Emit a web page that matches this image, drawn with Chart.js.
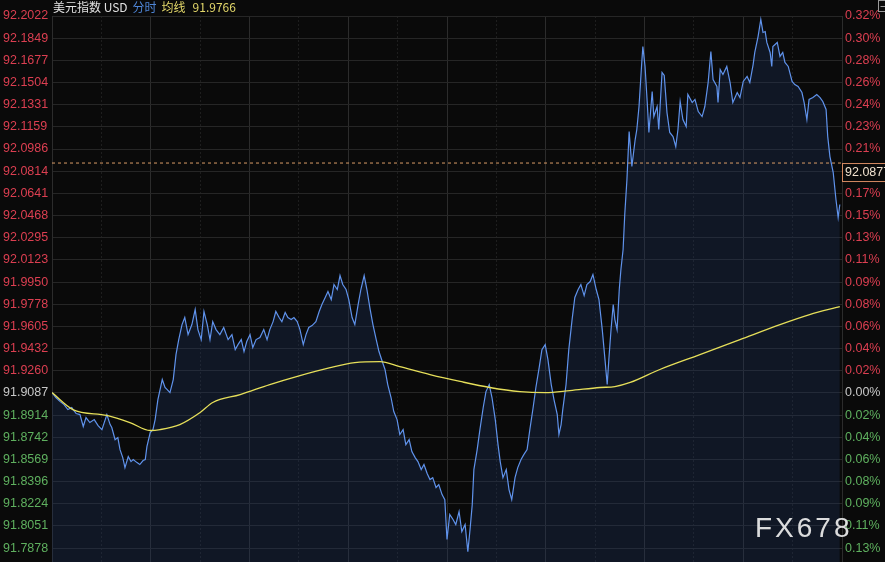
<!DOCTYPE html>
<html>
<head>
<meta charset="utf-8">
<script src="https://cdn.jsdelivr.net/npm/chart.js@4.4.1/dist/chart.umd.min.js"></script>
<style>
  html, body { margin: 0; padding: 0; background: #0a0a0a; }
  #wrap { width: 885px; height: 562px; position: relative; }
</style>
</head>
<body>
<div id="wrap"><canvas id="chart"></canvas></div>
<script>
// 美元指数 USD 分时 — previous close, last price, average
const BASE     = 91.9087;
const LAST     = 92.0877;
const AVG_LAST = 91.9766;
const SESSION  = 1440; // minutes in the session

const priceTicks = [
  92.2022, 92.1849, 92.1677, 92.1504, 92.1331, 92.1159, 92.0986, 92.0814,
  92.0641, 92.0468, 92.0295, 92.0123, 91.9950, 91.9778, 91.9605, 91.9432,
  91.9260, 91.9087, 91.8914, 91.8742, 91.8569, 91.8396, 91.8224, 91.8051, 91.7878,
];
const Y_MAX = 92.2022;
const Y_MIN = 91.7770;

// minute of session for each traded price
const minutes = [
  0, 7, 15, 22, 29, 36, 44, 51, 57, 62, 69, 77, 84, 91, 97, 100, 106, 109, 115, 120,
  124, 129, 133, 139, 144, 148, 155, 160, 166, 170, 173, 179, 184, 188, 193, 201, 206, 210, 215, 221,
  226, 231, 237, 242, 248, 255, 261, 266, 272, 277, 283, 288, 293, 299, 306, 313, 321, 328, 334, 339,
  345, 350, 355, 361, 366, 372, 379, 386, 392, 397, 403, 408, 414, 419, 425, 430, 436, 441, 447, 452,
  458, 463, 468, 474, 481, 487, 492, 498, 503, 509, 514, 520, 525, 530, 536, 541, 547, 552, 558, 563,
  569, 574, 580, 585, 591, 596, 602, 607, 612, 618, 623, 629, 634, 640, 645, 651, 656, 662, 667, 673,
  678, 684, 689, 694, 700, 705, 711, 716, 720, 725, 731, 736, 742, 747, 753, 758, 762, 766, 769, 775,
  780, 786, 791, 797, 802, 808, 813, 817, 822, 828, 833, 838, 844, 849, 855, 860, 866, 871, 877, 882,
  888, 893, 899, 904, 910, 915, 921, 924, 928, 931, 937, 942, 948, 953, 959, 964, 970, 975, 981, 986,
  992, 997, 1003, 1008, 1012, 1015, 1019, 1023, 1026, 1030, 1034, 1037, 1041, 1044, 1048, 1052, 1057, 1063, 1066, 1070,
  1075, 1077, 1081, 1085, 1088, 1094, 1097, 1103, 1106, 1112, 1116, 1121, 1126, 1132, 1137, 1141, 1145, 1150, 1156, 1159,
  1167, 1172, 1178, 1185, 1190, 1196, 1201, 1205, 1212, 1214, 1218, 1223, 1230, 1236, 1241, 1249, 1254, 1260, 1267, 1272,
  1278, 1281, 1287, 1292, 1296, 1300, 1303, 1309, 1312, 1314, 1322, 1327, 1332, 1336, 1342, 1349, 1354, 1360, 1367, 1371,
  1376, 1380, 1387, 1394, 1400, 1405, 1411, 1414, 1418, 1424, 1429, 1433, 1436,
];

const price = [
  91.9089, 91.9051, 91.9019, 91.8996, 91.8957, 91.8973, 91.8926, 91.8918, 91.8825, 91.8895,
  91.8856, 91.8879, 91.8832, 91.8801, 91.8879, 91.8918, 91.8840, 91.8817, 91.8723, 91.8739,
  91.8645, 91.8583, 91.8505, 91.8591, 91.8552, 91.8568, 91.8544, 91.8529, 91.8560, 91.8568,
  91.8669, 91.8778, 91.8801, 91.8879, 91.9035, 91.9191, 91.9129, 91.9113, 91.9089, 91.9191,
  91.9385, 91.9502, 91.9619, 91.9674, 91.9541, 91.9619, 91.9736, 91.9580, 91.9502, 91.9721,
  91.9619, 91.9502, 91.9642, 91.9580, 91.9541, 91.9596, 91.9502, 91.9541, 91.9424, 91.9463,
  91.9502, 91.9409, 91.9487, 91.9541, 91.9440, 91.9502, 91.9518, 91.9580, 91.9502, 91.9580,
  91.9642, 91.9721, 91.9674, 91.9642, 91.9713, 91.9674, 91.9658, 91.9674, 91.9642, 91.9580,
  91.9463, 91.9541, 91.9596, 91.9611, 91.9642, 91.9721, 91.9775, 91.9830, 91.9877, 91.9814,
  91.9931, 91.9892, 92.0001, 91.9931, 91.9892, 91.9814, 91.9674, 91.9619, 91.9775, 91.9892,
  92.0001, 91.9892, 91.9736, 91.9619, 91.9502, 91.9409, 91.9331, 91.9269, 91.9152, 91.9051,
  91.8942, 91.8879, 91.8763, 91.8801, 91.8684, 91.8723, 91.8630, 91.8583, 91.8552, 91.8490,
  91.8529, 91.8458, 91.8412, 91.8427, 91.8350, 91.8373, 91.8295, 91.8256, 91.7945, 91.8140,
  91.8101, 91.8062, 91.8163, 91.8007, 91.8062, 91.7851, 91.8023, 91.8217, 91.8490, 91.8645,
  91.8801, 91.8973, 91.9097, 91.9152, 91.9051, 91.8879, 91.8684, 91.8552, 91.8427, 91.8490,
  91.8334, 91.8256, 91.8427, 91.8505, 91.8568, 91.8606, 91.8645, 91.8801, 91.8973, 91.9129,
  91.9284, 91.9424, 91.9463, 91.9346, 91.9152, 91.9035, 91.8918, 91.8763, 91.8840, 91.8957,
  91.9152, 91.9424, 91.9658, 91.9830, 91.9892, 91.9931, 91.9845, 91.9931, 91.9954, 92.0009,
  91.9892, 91.9814, 91.9580, 91.9346, 91.9152, 91.9346, 91.9580, 91.9775, 91.9658, 91.9580,
  91.9892, 92.0048, 92.0204, 92.0476, 92.0749, 92.1122, 92.0850, 92.1060, 92.1138, 92.1317,
  92.1660, 92.1784, 92.1629, 92.1348, 92.1115, 92.1434, 92.1239, 92.1317, 92.1138, 92.1582,
  92.1559, 92.1270, 92.1115, 92.1083, 92.1005, 92.1138, 92.1356, 92.1216, 92.1161, 92.1411,
  92.1348, 92.1372, 92.1278, 92.1239, 92.1317, 92.1504, 92.1746, 92.1527, 92.1473, 92.1348,
  92.1605, 92.1566, 92.1629, 92.1504, 92.1348, 92.1426, 92.1387, 92.1512, 92.1551, 92.1504,
  92.1644, 92.1738, 92.1862, 92.1995, 92.1894, 92.1901, 92.1816, 92.1738, 92.1629, 92.1784,
  92.1816, 92.1707, 92.1738, 92.1660, 92.1629, 92.1512, 92.1488, 92.1473, 92.1426, 92.1348,
  92.1216, 92.1372, 92.1387, 92.1411, 92.1387, 92.1356, 92.1294, 92.1083, 92.0927, 92.0803,
  92.0593, 92.0453, 92.0554,
];

// average price line (均线)
const avgMinutes = [
  0, 38, 100, 142, 179, 197, 233, 270, 293, 343, 397, 452, 507, 552, 598, 634,
  689, 744, 798, 853, 899, 944, 999, 1026, 1054, 1108, 1181, 1254, 1327, 1381, 1436,
];
const avgPrice = [
  91.9089, 91.8957, 91.8911, 91.8856, 91.8794, 91.8801, 91.8840, 91.8934, 91.9012, 91.9074,
  91.9152, 91.9222, 91.9284, 91.9323, 91.9331, 91.9292, 91.9230, 91.9176, 91.9129, 91.9097,
  91.9089, 91.9105, 91.9129, 91.9136, 91.9168, 91.9269, 91.9385, 91.9502, 91.9619, 91.9697, 91.9759,
];

const RED   = '#dc3f51';
const GREEN = '#5fb05f';
const GREY  = '#c8c8c8';
const FONT  = '"Liberation Sans", Arial, sans-serif';
const CJK   = '"Noto Sans CJK SC", "Liberation Sans", sans-serif';

const pct = v => (v / BASE - 1) * 100;
const tickColor = (v, zero) => Math.abs(v - zero) < 1e-6 ? GREY : (v > zero ? RED : GREEN);

// labels sit on fixed price ticks, so no extra room is needed above/below the plot
const noLabelPadding = w => s => { s.width = w; s.paddingTop = 0; s.paddingBottom = 0; };

const overlay = {
  id: 'overlay',
  afterDraw(chart) {
    const { ctx, chartArea, scales } = chart;
    ctx.save();

    // title
    ctx.font = '12px ' + CJK;
    ctx.textBaseline = 'middle';
    ctx.textAlign = 'left';
    let x = 53;
    const parts = [
      ['美元指数 USD', '#e2e2e2', 5],
      ['分时', '#4e85d6', 5],
      ['均线', '#e3d76a', 7],
      [AVG_LAST.toFixed(4), '#e3d76a', 0],
    ];
    for (const [txt, col, gap] of parts) {
      ctx.fillStyle = col;
      ctx.fillText(txt, x, 7);
      x += ctx.measureText(txt).width + gap;
    }

    // last price tag on the right axis
    const y = scales.y.getPixelForValue(LAST);
    ctx.fillStyle = '#0a0a0a';
    ctx.fillRect(chartArea.right, y, 50, 18);
    ctx.strokeStyle = '#d58a62';
    ctx.lineWidth = 1;
    ctx.strokeRect(chartArea.right + 0.5, y + 0.5, 50, 18);
    ctx.font = '12.5px ' + FONT;
    ctx.fillStyle = '#f1e2cf';
    ctx.fillText(LAST.toFixed(4), chartArea.right + 3, y + 9.5);

    // small icon in the corner
    ctx.strokeStyle = '#9a9a9a';
    ctx.strokeRect(878.5, 0.5, 9, 11);
    ctx.beginPath(); ctx.moveTo(880.5, 6.5); ctx.lineTo(885, 6.5); ctx.stroke();

    // watermark
    ctx.font = '28px ' + FONT;
    ctx.letterSpacing = '3px';
    ctx.fillStyle = 'rgba(236,236,236,0.93)';
    ctx.textBaseline = 'alphabetic';
    ctx.fillText('FX678', 755, 537);
    ctx.restore();
  },
};

new Chart(document.getElementById('chart'), {
  type: 'line',
  data: {
    datasets: [
      {
        label: 'last', order: 0,
        data: [{ x: 0, y: LAST }, { x: SESSION, y: LAST }],
        borderColor: '#d99c66', borderWidth: 1, borderDash: [3, 3],
        pointRadius: 0, fill: false,
      },
      {
        label: '均线', order: 1,
        data: avgMinutes.map((m, i) => ({ x: m, y: avgPrice[i] })),
        borderColor: '#e6df5a', borderWidth: 1.3, pointRadius: 0,
        cubicInterpolationMode: 'monotone', fill: false,
      },
      {
        label: '美元指数', order: 2,
        data: minutes.map((m, i) => ({ x: m, y: price[i] })),
        borderColor: '#6093ec', borderWidth: 1.2, pointRadius: 0, tension: 0,
        fill: 'start', backgroundColor: 'rgba(32,54,96,0.32)',
      },
    ],
  },
  options: {
    responsive: true, maintainAspectRatio: false, animation: false,
    devicePixelRatio: 1,
    layout: { padding: { top: 16, left: 3, right: 0, bottom: 0 } },
    plugins: { legend: { display: false }, tooltip: { enabled: false }, title: { display: false } },
    scales: {
      x: {
        type: 'linear', min: 0, max: SESSION,
        ticks: { display: false, stepSize: 90 },
        afterBuildTicks: s => { s.ticks = Array.from({ length: 17 }, (_, i) => ({ value: i * 90 })); },
        afterFit: s => { s.height = 0; s.paddingLeft = 0; s.paddingRight = 0; },
        grid: {
          drawTicks: false,
          color: c => (c.tick && c.tick.value % 180 === 0) ? '#2c2c2c' : '#1e1e1e',
        },
        border: { display: false, dash: c => (c.tick && c.tick.value % 180 !== 0) ? [2, 2] : [] },
      },
      y: {
        type: 'linear', position: 'left', min: Y_MIN, max: Y_MAX,
        afterBuildTicks: s => { s.ticks = priceTicks.map(v => ({ value: v })); },
        afterFit: noLabelPadding(49),
        ticks: {
          crossAlign: 'far', padding: 0, autoSkip: false,
          font: { family: FONT, size: 12.5 },
          color: c => tickColor(c.tick.value, BASE),
          callback: v => v.toFixed(4),
        },
        grid: { color: '#262626', drawTicks: false },
        border: { display: true, color: '#2c2c2c' },
      },
      y1: {
        type: 'linear', position: 'right', min: pct(Y_MIN), max: pct(Y_MAX),
        afterBuildTicks: s => { s.ticks = priceTicks.map(v => ({ value: pct(v) })); },
        afterFit: noLabelPadding(43),
        ticks: {
          padding: 3, autoSkip: false,
          font: { family: FONT, size: 12.5 },
          color: c => tickColor(c.tick.value, 0),
          callback: v => Math.abs(v).toFixed(2) + '%',
        },
        grid: { display: false, drawTicks: false },
        border: { display: true, color: '#2c2c2c' },
      },
    },
  },
  plugins: [overlay],
});
</script>
</body>
</html>
